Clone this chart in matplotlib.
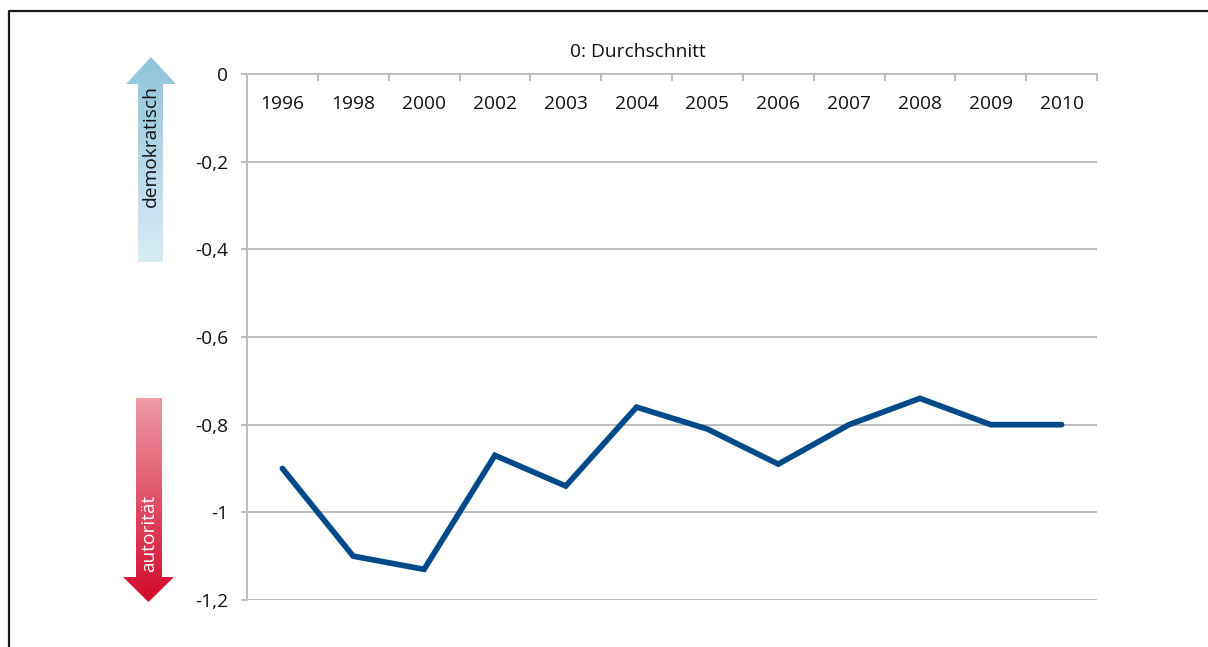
import numpy as np
import matplotlib
matplotlib.use("Agg")
import matplotlib.pyplot as plt
from matplotlib.patches import Polygon
from matplotlib.colors import LinearSegmentedColormap

years = ["1996", "1998", "2000", "2002", "2003", "2004", "2005", "2006", "2007", "2008", "2009", "2010"]
values = [-0.90, -1.10, -1.13, -0.87, -0.94, -0.76, -0.81, -0.89, -0.80, -0.74, -0.80, -0.80]
yticks = [0, -0.2, -0.4, -0.6, -0.8, -1.0, -1.2]
ytick_labels = ["0", "-0,2", "-0,4", "-0,6", "-0,8", "-1", "-1,2"]
title_text = "0: Durchschnitt"
up_label = "demokratisch"
down_label = "autorität"

plt.rcParams['font.family'] = ['Open Sans', 'DejaVu Sans']
FS = 13.8

W, H = 1208, 647
fig = plt.figure(figsize=(W / 100, H / 100), dpi=100)
fig.patch.set_facecolor("white")

L, R, T, B = 247, 1097, 74, 600
ax = fig.add_axes([L / W, 1 - B / H, (R - L) / W, (B - T) / H])

x = np.arange(len(years))
ax.plot(x, values, color="#004a8a", lw=4.1, solid_capstyle="round", solid_joinstyle="miter", zorder=3)

ax.set_xlim(-0.5, len(years) - 0.5)
ax.set_ylim(-1.2, 0)
grid_c = "#bdbdbd"
ax.set_yticks(yticks)
ax.set_yticklabels(ytick_labels)
for yv in yticks[1:]:
    ax.axhline(yv, color=grid_c, lw=1.4, zorder=1)

for s in ["right", "bottom"]:
    ax.spines[s].set_visible(False)
for s in ["left", "top"]:
    ax.spines[s].set_color(grid_c)
    ax.spines[s].set_linewidth(1.4)

ax.tick_params(axis="y", length=4.5, width=1.4, color=grid_c, pad=9, labelsize=FS, labelcolor="#111111")
ax.xaxis.tick_top()
ax.set_xticks(x)
ax.set_xticklabels(years)
ax.set_xticks(np.arange(-0.5, len(years), 1.0), minor=True)
ax.tick_params(axis="x", which="major", length=0, pad=-28, labelsize=FS, labelcolor="#111111")
ax.tick_params(axis="x", which="minor", length=5, width=1.4, color=grid_c, direction="in")

fig.text(638 / W, 1 - 52 / H, title_text, ha="center", va="center", fontsize=FS, color="#111111")

# overlay in pixel coordinates for frame and arrows
ov = fig.add_axes([0, 0, 1, 1], zorder=5)
ov.set_xlim(0, W)
ov.set_ylim(H, 0)
ov.axis("off")
ov.patch.set_alpha(0)

ov.plot([9, 9, W], [H, 10.5, 10.5], color="#1a1a1a", lw=1.6, solid_capstyle="butt")

def grad_arrow(pts, y0, y1, c0, c1):
    poly = Polygon(pts, closed=True, facecolor="none", edgecolor="none")
    ov.add_patch(poly)
    cmap = LinearSegmentedColormap.from_list("g", [c0, c1])
    grad = np.linspace(0, 1, 256).reshape(-1, 1)
    xs = [p[0] for p in pts]
    im = ov.imshow(grad, cmap=cmap, aspect="auto", extent=[min(xs), max(xs), y1, y0], origin="upper", zorder=4)
    im.set_clip_path(poly)

# blue up arrow
bx0, bx1 = 138, 163
hx0, hx1 = 126, 176
tip_y, head_y, bot_y = 57, 84, 262
up_pts = [(bx0, bot_y), (bx0, head_y), (hx0, head_y), ((hx0 + hx1) / 2, tip_y), (hx1, head_y), (bx1, head_y), (bx1, bot_y)]
grad_arrow(up_pts, tip_y, bot_y, "#8ec4dc", "#d9ecf4")
ov.text((bx0 + bx1) / 2, 146, up_label, rotation=90, ha="center", va="center", fontsize=FS, color="#111111", zorder=6)

# red down arrow
rx0, rx1 = 136, 162
rh0, rh1 = 123, 174
top_y, rhead_y, rtip_y = 398, 577, 602
dn_pts = [(rx0, top_y), (rx1, top_y), (rx1, rhead_y), (rh1, rhead_y), ((rh0 + rh1) / 2, rtip_y), (rh0, rhead_y), (rx0, rhead_y)]
grad_arrow(dn_pts, top_y, rtip_y, "#ee9ba6", "#d3082a")
ov.text((rx0 + rx1) / 2, 533, down_label, rotation=90, ha="center", va="center", fontsize=FS, color="white", zorder=6)

fig.savefig("out.png", dpi=100, facecolor="white")
